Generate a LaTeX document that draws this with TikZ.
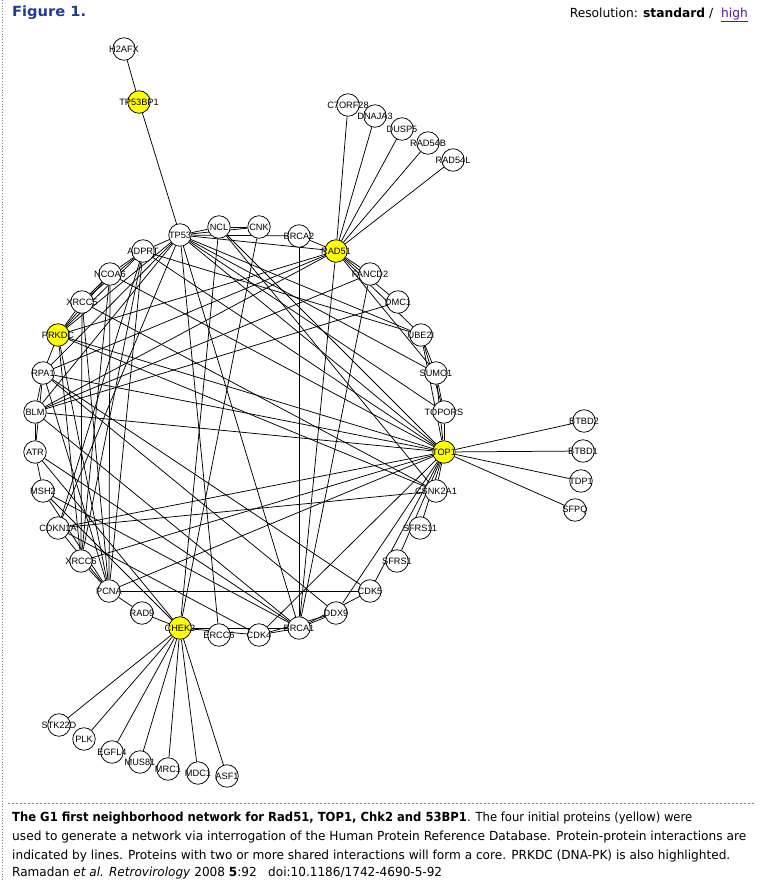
\documentclass[tikz,border=0pt]{standalone}
\usepackage{fontspec}
\setmainfont{DejaVu Sans}
\newfontfamily\labfont{Liberation Sans}
\usepackage{graphicx}
\definecolor{figblue}{HTML}{1F3C96}
\definecolor{linkpurple}{HTML}{551A8B}
\definecolor{hiyellow}{HTML}{FFFF00}
\definecolor{rulegray}{HTML}{808080}
\pgfdeclarelayer{bg}
\pgfdeclarelayer{edges}
\pgfsetlayers{bg,edges,main}
\tikzset{
  pnode/.style={circle, draw=black, line width=0.75pt, fill=white, minimum size=22.5pt, inner sep=0pt},
  seed/.style={pnode, fill=hiyellow},
  plabel/.style={font=\labfont\fontsize{9.2}{10}\selectfont, inner sep=0pt, text=black},
  edge/.style={draw=black, line width=0.75pt},
  captxt/.style={anchor=west, inner sep=0pt, font=\fontsize{12.5}{15}\selectfont},
}
\newcommand\pn[4][pnode]{\node[#1, label={[plabel]center:#4}] (#2) at (#3) {};}
\begin{document}
\begin{tikzpicture}[x=1pt,y=-1pt]
\begin{pgfonlayer}{bg}
  \fill[white] (0,0) rectangle (764,880);
\end{pgfonlayer}
\useasboundingbox (0,0) rectangle (764,880);
\draw[rulegray, line width=0.8pt, dotted] (2.5,0) -- (2.5,880);
% header
\node[anchor=west, inner sep=0pt, text=figblue, font=\bfseries\fontsize{14}{16}\selectfont] (title) at (12,13) {\resizebox{74pt}{\height}{Figure 1.}};
\node[anchor=east, inner sep=0pt, font=\fontsize{12.5}{15}\selectfont] (res) at (748,15) {\resizebox{178pt}{\height}{Resolution: \textbf{standard} /\ \ \textcolor{linkpurple}{\underline{high}}}};
% satellites
\pn{h2afx}{124,49}{H2AFX}
\pn[seed]{tp53bp1}{139,102}{TP53BP1}
\pn{c7orf28}{348,105}{C7ORF28}
\pn{dnaja3}{375,116}{DNAJA3}
\pn{dusp5}{402,129}{DUSP5}
\pn{rad54b}{428,143}{RAD54B}
\pn{rad54l}{453,160}{RAD54L}
\pn{btbd2}{584,421}{BTBD2}
\pn{btbd1}{583,451}{BTBD1}
\pn{tdp1}{581,481}{TDP1}
\pn{sfpq}{575,510}{SFPQ}
\pn{stk22d}{59,725}{STK22D}
\pn{plk}{84,739}{PLK}
\pn{egfl4}{112,752}{EGFL4}
\pn{mus81}{140,762}{MUS81}
\pn{mrc1}{168,769}{MRC1}
\pn{mdc1}{198,773}{MDC1}
\pn{asf1}{227,776}{ASF1}
% core circle
\pn{tp53}{180,235}{TP53}
\pn{ncl}{219,227}{NCL}
\pn{cnk}{259,227}{CNK}
\pn{brca2}{299,236}{BRCA2}
\pn[seed]{rad51}{336,251}{RAD51}
\pn{fancd2}{370,274}{FANCD2}
\pn{dmc1}{398,302}{DMC1}
\pn{ube2i}{421,335}{UBE2I}
\pn{sumo1}{436,373}{SUMO1}
\pn{topors}{444,412}{TOPORS}
\pn[seed]{top1}{444,452}{TOP1}
\pn{csnk2a1}{436,491}{CSNK2A1}
\pn{sfrs11}{420,528}{SFRS11}
\pn{sfrs1}{397,561}{SFRS1}
\pn{cdk5}{370,591}{CDK5}
\pn{ddx9}{336,613}{DDX9}
\pn{brca1}{299,628}{BRCA1}
\pn{cdk4}{259,635}{CDK4}
\pn{ercc6}{219,635}{ERCC6}
\pn[seed]{chek2}{180,628}{CHEK2}
\pn{rad9}{142,613}{RAD9}
\pn{pcna}{109,591}{PCNA}
\pn{xrcc6}{81,561}{XRCC6}
\pn{cdkn1a}{58,528}{CDKN1A}
\pn{msh2}{43,491}{MSH2}
\pn{atr}{35,452}{ATR}
\pn{blm}{35,412}{BLM}
\pn{rpa1}{43,373}{RPA1}
\pn[seed]{prkdc}{58,335}{PRKDC}
\pn{xrcc5}{82,302}{XRCC5}
\pn{ncoa6}{110,274}{NCOA6}
\pn{adprt}{143,251}{ADPRT}
% connectors
\begin{pgfonlayer}{edges}
\foreach \a/\b in {h2afx/tp53bp1, tp53bp1/tp53,
  rad51/c7orf28, rad51/dnaja3, rad51/dusp5, rad51/rad54b, rad51/rad54l,
  top1/btbd2, top1/btbd1, top1/tdp1, top1/sfpq,
  chek2/stk22d, chek2/plk, chek2/egfl4, chek2/mus81, chek2/mrc1, chek2/mdc1, chek2/asf1,
  tp53/ncl, tp53/cnk, ncl/cnk, tp53/brca2, tp53/rad51, brca2/rad51, tp53/adprt,
  tp53/ube2i, tp53/sumo1, tp53/topors, tp53/top1, tp53/ercc6, tp53/brca1,
  tp53/rpa1, tp53/cdkn1a, tp53/blm, tp53/prkdc,
  ncl/top1, ncl/csnk2a1, ncl/chek2, cnk/chek2,
  brca2/brca1, rad51/brca1, fancd2/brca1,
  rad51/fancd2, rad51/dmc1, rad51/ube2i, rad51/sumo1,
  ube2i/sumo1, ube2i/topors, ube2i/top1, sumo1/topors, sumo1/top1, topors/top1,
  top1/csnk2a1, top1/sfrs11, top1/sfrs1, top1/cdk5, top1/ddx9, top1/cdk4,
  ddx9/brca1, cdk4/brca1, cdk4/ddx9, brca1/cdk5,
  chek2/brca1, chek2/cdk4, rad9/chek2, pcna/rad9,
  pcna/cdk5, pcna/top1, xrcc6/top1, cdkn1a/top1, cdkn1a/csnk2a1, cdkn1a/cdk4, cdkn1a/pcna,
  xrcc6/pcna, msh2/pcna, msh2/brca1, msh2/chek2, atr/msh2, blm/atr, rpa1/blm, rpa1/atr,
  atr/chek2, atr/brca1,
  blm/rad51, blm/dmc1, blm/fancd2, blm/top1, blm/brca1,
  rpa1/rad51, rpa1/top1, rpa1/pcna, rpa1/cdk5, rpa1/ddx9, rpa1/prkdc,
  prkdc/xrcc5, prkdc/ncoa6, prkdc/adprt, prkdc/xrcc6, prkdc/pcna, prkdc/top1, prkdc/csnk2a1, prkdc/rad51,
  xrcc5/xrcc6, xrcc5/pcna, xrcc5/csnk2a1, xrcc5/ncoa6, xrcc5/adprt,
  ncoa6/adprt, ncoa6/pcna, ncoa6/xrcc6, ncoa6/top1,
  adprt/xrcc6, adprt/pcna, adprt/cdkn1a, adprt/top1, adprt/ube2i}
  \draw[edge] (\a) -- (\b);
\end{pgfonlayer}
% caption
\draw[rulegray, line width=0.8pt, dash pattern=on 2pt off 2pt] (8,803.5) -- (756,803.5);
\node[captxt] (cap1) at (12,818) {\resizebox{680pt}{\height}{\textbf{The G1 first neighborhood network for Rad51, TOP1, Chk2 and 53BP1}. The four initial proteins (yellow) were}};
\node[captxt] (cap2) at (12,837) {\resizebox{734pt}{\height}{used to generate a network via interrogation of the Human Protein Reference Database. Protein-protein interactions are}};
\node[captxt] (cap3) at (12,856) {\resizebox{718pt}{\height}{indicated by lines. Proteins with two or more shared interactions will form a core. PRKDC (DNA-PK) is also highlighted.}};
\node[captxt] (cap4) at (12,873) {\resizebox{430pt}{\height}{Ramadan \textit{et al.} \textit{Retrovirology} 2008 \textbf{5}:92\ \ \ doi:10.1186/1742-4690-5-92}};
\end{tikzpicture}
\end{document}
